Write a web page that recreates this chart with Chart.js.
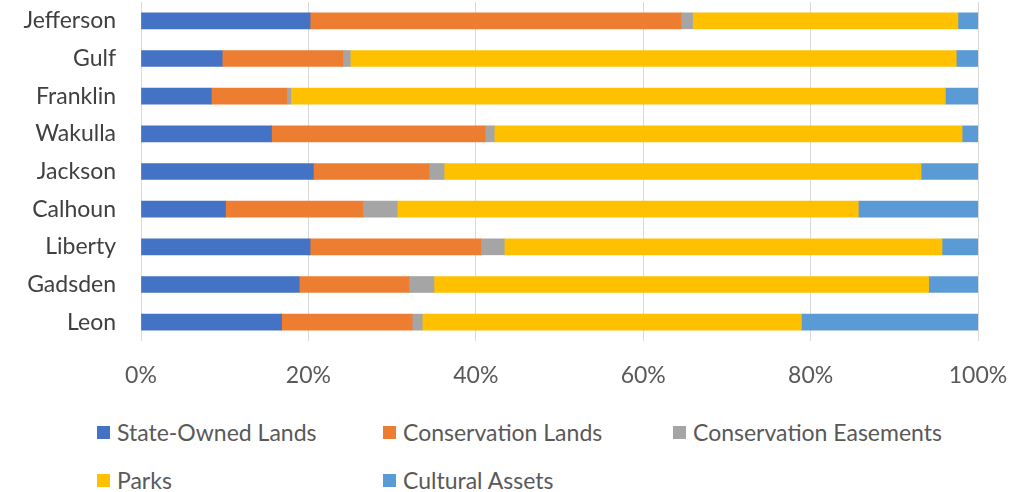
<!DOCTYPE html>
<html>
<head>
<meta charset="utf-8">
<script src="https://cdn.jsdelivr.net/npm/chart.js@4"></script>
<style>
  body { margin: 0; background: #fff; font-family: Lato, "Liberation Sans", sans-serif; }
  #wrap { position: relative; width: 1030px; height: 492px; }
  #chart { position: absolute; left: 0; top: 0; }
  #legend { position: absolute; left: 97px; top: 417px; display: grid;
            grid-template-columns: 286px 290px 300px; row-gap: 18px; }
  .item { display: flex; align-items: center; font-size: 23px; color: #595959; height: 30px; white-space: nowrap; }
  .box { width: 13px; height: 13px; margin-right: 7px; flex: none; }
</style>
</head>
<body>
<div id="wrap">
  <canvas id="chart" width="1030" height="400"></canvas>
  <div id="legend"></div>
</div>
<script>
const counties = ['Jefferson', 'Gulf', 'Franklin', 'Wakulla', 'Jackson', 'Calhoun', 'Liberty', 'Gadsden', 'Leon'];
const seriesNames = ['State-Owned Lands', 'Conservation Lands', 'Conservation Easements', 'Parks', 'Cultural Assets'];
const stateOwned   = [20.2,  9.7,  8.4, 15.6, 20.6, 10.1, 20.2, 18.9, 16.8];
const conservation = [44.3, 14.4,  9.0, 25.5, 13.8, 16.4, 20.4, 13.1, 15.6];
const easements    = [ 1.4,  0.9,  0.5,  1.1,  1.8,  4.1,  2.8,  3.0,  1.2];
const parks        = [31.7, 72.4, 78.2, 55.9, 57.0, 55.1, 52.3, 59.1, 45.3];
const cultural     = [ 2.4,  2.6,  3.9,  1.9,  6.8, 14.3,  4.3,  5.9, 21.1];
const xTicks = [0, 20, 40, 60, 80, 100];

const colors = ['#4472C4', '#ED7D31', '#A5A5A5', '#FFC000', '#5B9BD5'];
const values = [stateOwned, conservation, easements, parks, cultural];
const font = { family: 'Lato, "Liberation Sans", sans-serif', size: 23 };

const chart = new Chart(document.getElementById('chart'), {
  type: 'bar',
  data: {
    labels: counties,
    datasets: seriesNames.map((name, i) => ({
      label: name,
      data: values[i],
      backgroundColor: colors[i],
      borderWidth: 0,
      barThickness: 16
    }))
  },
  options: {
    indexAxis: 'y',
    responsive: false,
    animation: false,
    layout: { padding: { top: 2, right: 52 } },
    plugins: { legend: { display: false }, tooltip: { enabled: false } },
    scales: {
      x: {
        stacked: true,
        min: 0,
        max: 100,
        afterBuildTicks: scale => { scale.ticks = xTicks.map(v => ({ value: v })); },
        afterFit: scale => { scale.height = 59; },
        ticks: { color: '#595959', font: font, padding: 21, callback: v => v + '%' },
        grid: { color: '#d9d9d9', drawTicks: false },
        border: { display: false }
      },
      y: {
        stacked: true,
        // labels sit well left of the bars; don't let them push the plot down
        afterFit: scale => {
          scale.width = 141;
          scale.paddingTop = 0;
          scale.paddingBottom = 0;
        },
        ticks: { color: '#404040', font: font, padding: 25 },
        grid: { display: false, drawTicks: false },
        border: { display: false }
      }
    }
  }
});

// legend laid out in fixed columns
const legend = document.getElementById('legend');
chart.data.datasets.forEach(ds => {
  const item = document.createElement('div');
  item.className = 'item';
  item.innerHTML = `<span class="box" style="background:${ds.backgroundColor}"></span>${ds.label}`;
  legend.appendChild(item);
});
</script>
</body>
</html>
